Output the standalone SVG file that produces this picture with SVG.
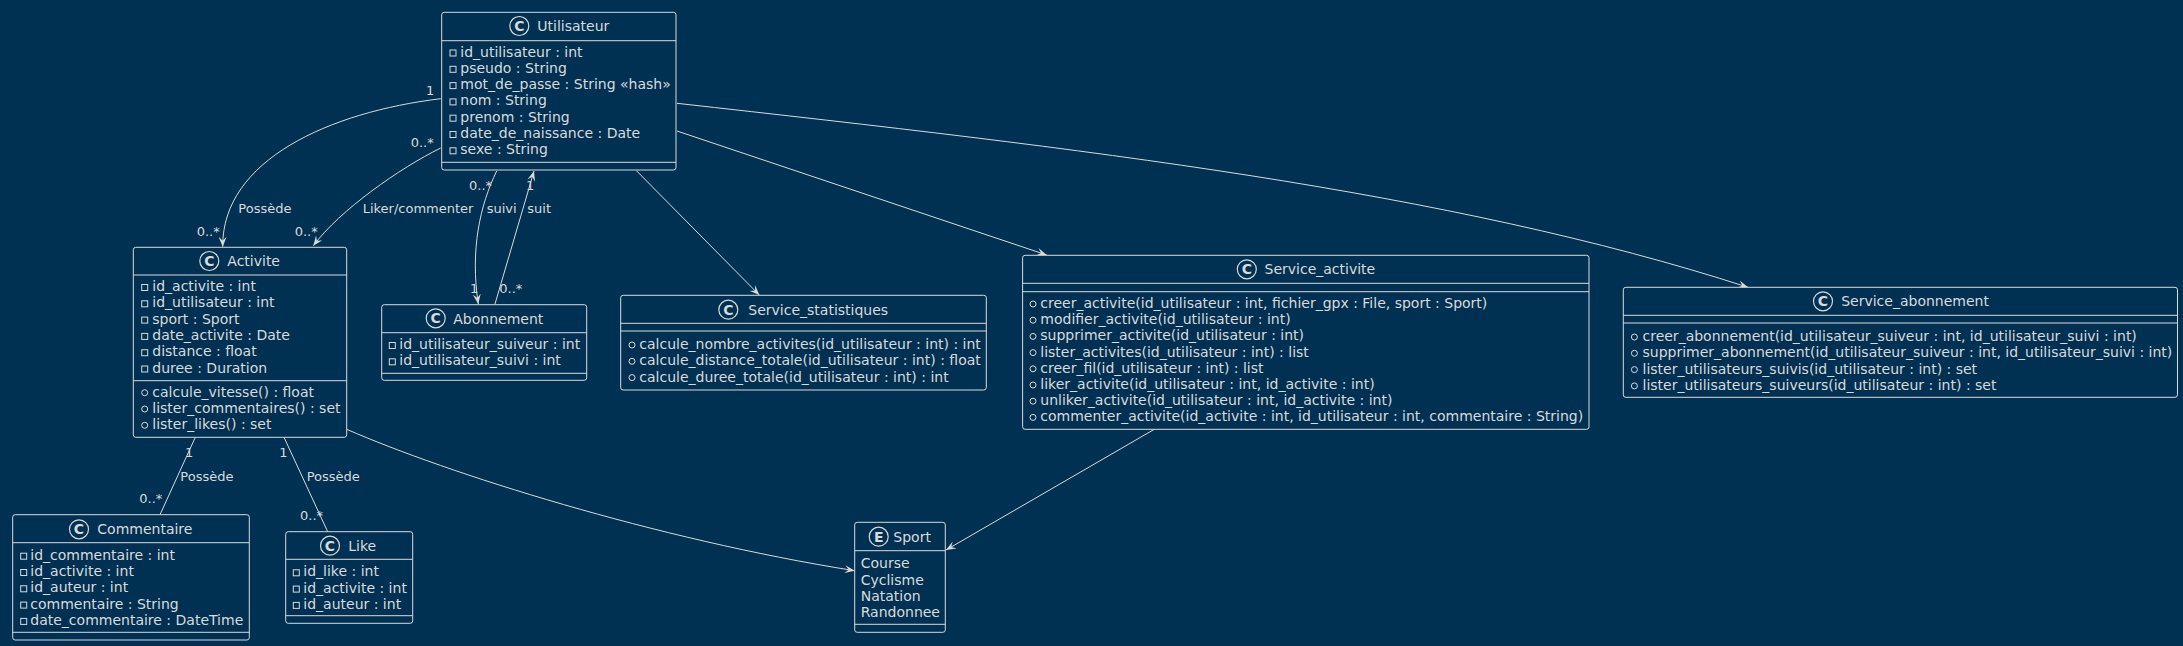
<svg xmlns="http://www.w3.org/2000/svg" width="2183" height="646" viewBox="0 0 2183 646">
<defs>
<style>
.bg{fill:#003153}
.box{fill:#003153;stroke:#DADADA;stroke-width:1}
.sep{stroke:#DADADA;stroke-width:1}
.t{font-family:"DejaVu Sans",sans-serif;font-size:14px;fill:#DADADA}
.ico{fill:none;stroke:#DADADA;stroke-width:1.2}
.icol{font-family:"DejaVu Sans",sans-serif;font-size:14px;font-weight:bold;fill:#DADADA;text-anchor:middle}
.pv{fill:none;stroke:#DADADA;stroke-width:1}
.pb{fill:none;stroke:#DADADA;stroke-width:1}
.ln{fill:none;stroke:#DADADA;stroke-width:1}
.lb{font-family:"DejaVu Sans",sans-serif;font-size:13px;fill:#DADADA}
</style>
<marker id="arr" viewBox="0 0 10 8" refX="10" refY="4" markerWidth="10" markerHeight="8" markerUnits="userSpaceOnUse" orient="auto">
<path d="M0,0 L10,4 L0,8 L4,4 Z" fill="#DADADA"/>
</marker>
</defs>
<rect class="bg" x="0" y="0" width="2183" height="646"/>

<g id="connectors">
<path class="ln" d="M440.7,98.7 C330,112 222,160 222.7,246.7" marker-end="url(#arr)"/>
<path class="ln" d="M440.7,148 C400,168 340,210 313.3,245.7" marker-end="url(#arr)"/>
<path class="ln" d="M496.7,171 C480,205 470,250 478.3,304" marker-end="url(#arr)"/>
<path class="ln" d="M495,304 L534,171" marker-end="url(#arr)"/>
<path class="ln" d="M636.4,170.7 L759.3,295" marker-end="url(#arr)"/>
<path class="ln" d="M677,131 L1046.7,255" marker-end="url(#arr)"/>
<path class="ln" d="M677,103.3 C1077,148 1448,190 1748,287.3" marker-end="url(#arr)"/>
<path class="ln" d="M195.3,437.3 L160,514.7"/>
<path class="ln" d="M284,437.3 L327.7,531.7"/>
<path class="ln" d="M346.7,429.3 C447,473 655,539 854.7,570.7" marker-end="url(#arr)"/>
<path class="ln" d="M1154.3,429.3 L946,550" marker-end="url(#arr)"/>
<text class="lb" x="426" y="95">1</text>
<text class="lb" x="410.7" y="147.3">0..*</text>
<text class="lb" x="238.3" y="213.3">Possède</text>
<text class="lb" x="196.7" y="236">0..*</text>
<text class="lb" x="362.7" y="213.3">Liker/commenter</text>
<text class="lb" x="294.7" y="236">0..*</text>
<text class="lb" x="469" y="190">0..*</text>
<text class="lb" x="486.7" y="213.3">suivi</text>
<text class="lb" x="470" y="292.7">1</text>
<text class="lb" x="526" y="190">1</text>
<text class="lb" x="527.3" y="213.3">suit</text>
<text class="lb" x="499.3" y="292.7">0..*</text>
<text class="lb" x="185" y="457.3">1</text>
<text class="lb" x="180.3" y="481">Possède</text>
<text class="lb" x="139.3" y="503.3">0..*</text>
<text class="lb" x="279.3" y="457.3">1</text>
<text class="lb" x="306.7" y="481">Possède</text>
<text class="lb" x="300" y="520">0..*</text>
</g>

<g id="Utilisateur">
<rect class="box" x="441.7" y="12.3" width="234.3" height="157.7" rx="2.5"/>
<line class="sep" x1="441.7" y1="40.7" x2="676" y2="40.7"/>
<line class="sep" x1="441.7" y1="162.3" x2="676" y2="162.3"/>
<circle class="ico" cx="519.3" cy="26" r="9.5"/>
<text class="icol" x="519.3" y="31">C</text>
<text class="t" x="537.3" y="31">Utilisateur</text>
<rect class="pv" x="450" y="50" width="6" height="6"/><text class="t" x="460.3" y="56.5">id_utilisateur : int</text>
<rect class="pv" x="450" y="66.3" width="6" height="6"/><text class="t" x="460.3" y="72.8">pseudo : String</text>
<rect class="pv" x="450" y="82.6" width="6" height="6"/><text class="t" x="460.3" y="89.1">mot_de_passe : String «hash»</text>
<rect class="pv" x="450" y="98.9" width="6" height="6"/><text class="t" x="460.3" y="105.4">nom : String</text>
<rect class="pv" x="450" y="115.2" width="6" height="6"/><text class="t" x="460.3" y="121.7">prenom : String</text>
<rect class="pv" x="450" y="131.5" width="6" height="6"/><text class="t" x="460.3" y="138">date_de_naissance : Date</text>
<rect class="pv" x="450" y="147.8" width="6" height="6"/><text class="t" x="460.3" y="154.3">sexe : String</text>
</g>

<g id="Activite">
<rect class="box" x="133.3" y="247.3" width="213.4" height="190" rx="2.5"/>
<line class="sep" x1="133.3" y1="275" x2="346.7" y2="275"/>
<line class="sep" x1="133.3" y1="380.7" x2="346.7" y2="380.7"/>
<circle class="ico" cx="209.3" cy="261" r="9.5"/>
<text class="icol" x="209.3" y="266">C</text>
<text class="t" x="227.3" y="266">Activite</text>
<rect class="pv" x="141.7" y="284.5" width="6" height="6"/><text class="t" x="152.3" y="291">id_activite : int</text>
<rect class="pv" x="141.7" y="300.8" width="6" height="6"/><text class="t" x="152.3" y="307.3">id_utilisateur : int</text>
<rect class="pv" x="141.7" y="317.1" width="6" height="6"/><text class="t" x="152.3" y="323.6">sport : Sport</text>
<rect class="pv" x="141.7" y="333.4" width="6" height="6"/><text class="t" x="152.3" y="339.9">date_activite : Date</text>
<rect class="pv" x="141.7" y="349.7" width="6" height="6"/><text class="t" x="152.3" y="356.2">distance : float</text>
<rect class="pv" x="141.7" y="366" width="6" height="6"/><text class="t" x="152.3" y="372.5">duree : Duration</text>
<circle class="pb" cx="144.7" cy="392.7" r="3"/><text class="t" x="152.3" y="396.7">calcule_vitesse() : float</text>
<circle class="pb" cx="144.7" cy="409" r="3"/><text class="t" x="152.3" y="413">lister_commentaires() : set</text>
<circle class="pb" cx="144.7" cy="425.3" r="3"/><text class="t" x="152.3" y="429.3">lister_likes() : set</text>
</g>

<g id="Abonnement">
<rect class="box" x="381.7" y="304.7" width="205" height="75.6" rx="2.5"/>
<line class="sep" x1="381.7" y1="332.7" x2="586.7" y2="332.7"/>
<line class="sep" x1="381.7" y1="373.3" x2="586.7" y2="373.3"/>
<circle class="ico" cx="435.7" cy="318.3" r="9.5"/>
<text class="icol" x="435.7" y="323.3">C</text>
<text class="t" x="453.3" y="323.5">Abonnement</text>
<rect class="pv" x="389.3" y="342.5" width="6" height="6"/><text class="t" x="399.3" y="349">id_utilisateur_suiveur : int</text>
<rect class="pv" x="389.3" y="358.8" width="6" height="6"/><text class="t" x="399.3" y="365.3">id_utilisateur_suivi : int</text>
</g>

<g id="Service_statistiques">
<rect class="box" x="620.7" y="295.3" width="365.6" height="94.7" rx="2.5"/>
<line class="sep" x1="620.7" y1="323.3" x2="986.3" y2="323.3"/>
<line class="sep" x1="620.7" y1="331" x2="986.3" y2="331"/>
<circle class="ico" cx="728.3" cy="309.7" r="9.5"/>
<text class="icol" x="728.3" y="314.7">C</text>
<text class="t" x="748.3" y="314.5">Service_statistiques</text>
<circle class="pb" cx="632" cy="345" r="3"/><text class="t" x="639.3" y="349">calcule_nombre_activites(id_utilisateur : int) : int</text>
<circle class="pb" cx="632" cy="361.3" r="3"/><text class="t" x="639.3" y="365.3">calcule_distance_totale(id_utilisateur : int) : float</text>
<circle class="pb" cx="632" cy="377.6" r="3"/><text class="t" x="639.3" y="381.6">calcule_duree_totale(id_utilisateur : int) : int</text>
</g>

<g id="Service_activite">
<rect class="box" x="1022.6" y="255.3" width="566.4" height="174" rx="2.5"/>
<line class="sep" x1="1022.6" y1="283.3" x2="1589" y2="283.3"/>
<line class="sep" x1="1022.6" y1="291.7" x2="1589" y2="291.7"/>
<circle class="ico" cx="1246.8" cy="269.3" r="9.5"/>
<text class="icol" x="1246.8" y="274.3">C</text>
<text class="t" x="1264.5" y="274">Service_activite</text>
<circle class="pb" cx="1033" cy="304" r="3"/><text class="t" x="1040.3" y="308">creer_activite(id_utilisateur : int, fichier_gpx : File, sport : Sport)</text>
<circle class="pb" cx="1033" cy="320.2" r="3"/><text class="t" x="1040.3" y="324.2">modifier_activite(id_utilisateur : int)</text>
<circle class="pb" cx="1033" cy="336.4" r="3"/><text class="t" x="1040.3" y="340.4">supprimer_activite(id_utilisateur : int)</text>
<circle class="pb" cx="1033" cy="352.6" r="3"/><text class="t" x="1040.3" y="356.6">lister_activites(id_utilisateur : int) : list</text>
<circle class="pb" cx="1033" cy="368.8" r="3"/><text class="t" x="1040.3" y="372.8">creer_fil(id_utilisateur : int) : list</text>
<circle class="pb" cx="1033" cy="385" r="3"/><text class="t" x="1040.3" y="389">liker_activite(id_utilisateur : int, id_activite : int)</text>
<circle class="pb" cx="1033" cy="401.2" r="3"/><text class="t" x="1040.3" y="405.2">unliker_activite(id_utilisateur : int, id_activite : int)</text>
<circle class="pb" cx="1033" cy="417.4" r="3"/><text class="t" x="1040.3" y="421.4">commenter_activite(id_activite : int, id_utilisateur : int, commentaire : String)</text>
</g>

<g id="Service_abonnement">
<rect class="box" x="1623.3" y="287.3" width="554.2" height="110" rx="2.5"/>
<line class="sep" x1="1623.3" y1="315.3" x2="2177.5" y2="315.3"/>
<line class="sep" x1="1623.3" y1="323" x2="2177.5" y2="323"/>
<circle class="ico" cx="1823" cy="301.3" r="9.5"/>
<text class="icol" x="1823" y="306.3">C</text>
<text class="t" x="1841.2" y="306">Service_abonnement</text>
<circle class="pb" cx="1634.4" cy="337" r="3"/><text class="t" x="1642.5" y="341">creer_abonnement(id_utilisateur_suiveur : int, id_utilisateur_suivi : int)</text>
<circle class="pb" cx="1634.4" cy="353.3" r="3"/><text class="t" x="1642.5" y="357.3">supprimer_abonnement(id_utilisateur_suiveur : int, id_utilisateur_suivi : int)</text>
<circle class="pb" cx="1634.4" cy="369.6" r="3"/><text class="t" x="1642.5" y="373.6">lister_utilisateurs_suivis(id_utilisateur : int) : set</text>
<circle class="pb" cx="1634.4" cy="385.9" r="3"/><text class="t" x="1642.5" y="389.9">lister_utilisateurs_suiveurs(id_utilisateur : int) : set</text>
</g>

<g id="Commentaire">
<rect class="box" x="12.7" y="514.7" width="236.6" height="125.3" rx="2.5"/>
<line class="sep" x1="12.7" y1="542.7" x2="249.3" y2="542.7"/>
<line class="sep" x1="12.7" y1="632.3" x2="249.3" y2="632.3"/>
<circle class="ico" cx="79" cy="529.3" r="9.5"/>
<text class="icol" x="79" y="534.3">C</text>
<text class="t" x="97.3" y="534">Commentaire</text>
<rect class="pv" x="20.7" y="553.2" width="6" height="6"/><text class="t" x="30.3" y="559.7">id_commentaire : int</text>
<rect class="pv" x="20.7" y="569.5" width="6" height="6"/><text class="t" x="30.3" y="576">id_activite : int</text>
<rect class="pv" x="20.7" y="585.8" width="6" height="6"/><text class="t" x="30.3" y="592.3">id_auteur : int</text>
<rect class="pv" x="20.7" y="602.1" width="6" height="6"/><text class="t" x="30.3" y="608.6">commentaire : String</text>
<rect class="pv" x="20.7" y="618.4" width="6" height="6"/><text class="t" x="30.3" y="624.9">date_commentaire : DateTime</text>
</g>

<g id="Like">
<rect class="box" x="285.7" y="531.7" width="127" height="91.6" rx="2.5"/>
<line class="sep" x1="285.7" y1="559.3" x2="412.7" y2="559.3"/>
<line class="sep" x1="285.7" y1="615.7" x2="412.7" y2="615.7"/>
<circle class="ico" cx="330" cy="545.7" r="9.5"/>
<text class="icol" x="330" y="550.7">C</text>
<text class="t" x="348.3" y="551">Like</text>
<rect class="pv" x="293.3" y="569.8" width="6" height="6"/><text class="t" x="303.3" y="576.3">id_like : int</text>
<rect class="pv" x="293.3" y="586.1" width="6" height="6"/><text class="t" x="303.3" y="592.6">id_activite : int</text>
<rect class="pv" x="293.3" y="602.4" width="6" height="6"/><text class="t" x="303.3" y="608.9">id_auteur : int</text>
</g>

<g id="Sport">
<rect class="box" x="854.7" y="522.3" width="90.6" height="110" rx="2.5"/>
<line class="sep" x1="854.7" y1="550.7" x2="945.3" y2="550.7"/>
<line class="sep" x1="854.7" y1="624.3" x2="945.3" y2="624.3"/>
<circle class="ico" cx="878.7" cy="536.7" r="9.5"/>
<text class="icol" x="878.7" y="541.7">E</text>
<text class="t" x="893.3" y="541.5">Sport</text>
<text class="t" x="860.7" y="568.3">Course</text>
<text class="t" x="860.7" y="584.6">Cyclisme</text>
<text class="t" x="860.7" y="600.9">Natation</text>
<text class="t" x="860.7" y="617.2">Randonnee</text>
</g>
</svg>
